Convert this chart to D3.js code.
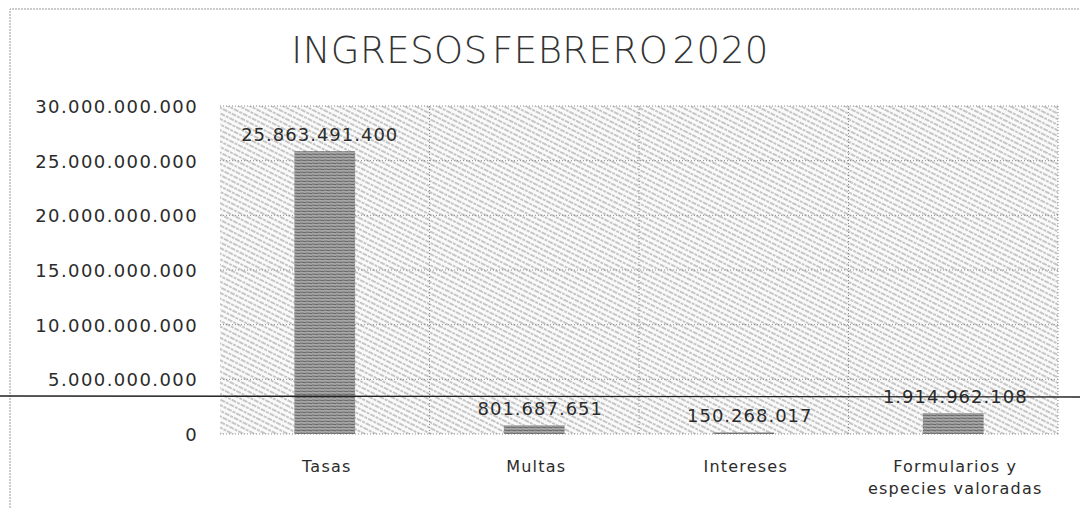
<!DOCTYPE html>
<html>
<head>
  <meta charset="UTF-8">
  <title>Ingresos febrero 2020</title>
  <style>
    body { margin: 0; background: #fff; }
    .tick-lbl, .val-lbl, .cat-lbl {
        font-family: "DejaVu Sans", sans-serif;
        fill: #2b2b2b;
    }
    .title {
        font-family: "DejaVu Sans", sans-serif;
        fill: #333;
    }
  </style>
</head>
<body>
<svg></svg>
<script src="https://d3js.org/d3.v7.min.js"></script>
<script>

let width = 1080, height = 508;

// data
var categories = ["Tasas", "Multas", "Intereses", "Formularios y|especies valoradas"];
var values = [25863491400, 801687651, 150268017, 1914962108];
var valueLabels = ["25.863.491.400", "801.687.651", "150.268.017", "1.914.962.108"];
var tickValues = [0, 5000000000, 10000000000, 15000000000, 20000000000, 25000000000, 30000000000];
var tickLabels = ["0", "5.000.000.000", "10.000.000.000", "15.000.000.000", "20.000.000.000", "25.000.000.000", "30.000.000.000"];

let svg = d3.select("svg")
    .attr("width", width)
    .attr("height", height);

let plot = {left: 220, right: 1058, top: 106, bottom: 434};

let x = d3.scaleBand()
    .domain(categories)
    .range([plot.left, plot.right])
    .padding(0);

let y = d3.scaleLinear()
    .domain([0, 30000000000])
    .range([plot.bottom, plot.top]);

// patterns
let defs = svg.append("defs");
let hatch = defs.append("pattern")
    .attr("id", "hatch")
    .attr("patternUnits", "userSpaceOnUse")
    .attr("width", 10).attr("height", 5)
    .attr("patternTransform", "rotate(27)");
hatch.append("rect").attr("width", 10).attr("height", 5).attr("fill", "#fafafa");
hatch.append("line")
    .attr("x1", 0).attr("y1", 1).attr("x2", 10).attr("y2", 1)
    .attr("stroke", "#939393").attr("stroke-width", 1)
    .attr("stroke-dasharray", "3,1");

let barPat = defs.append("pattern")
    .attr("id", "barpat")
    .attr("patternUnits", "userSpaceOnUse")
    .attr("width", 6).attr("height", 3);
barPat.append("rect").attr("width", 6).attr("height", 3).attr("fill", "#a8a8a8");
barPat.append("line")
    .attr("x1", 0).attr("y1", 1).attr("x2", 6).attr("y2", 1.6)
    .attr("stroke", "#6a6a6a").attr("stroke-width", 1.2);

// chart border (scanned, dotted)
svg.append("path")
    .attr("d", "M10,508 L10,9 L1080,9")
    .attr("fill", "none")
    .attr("stroke", "#999")
    .attr("stroke-width", 1)
    .attr("stroke-dasharray", "2,1");

// plot area background
svg.append("rect")
    .attr("x", plot.left).attr("y", plot.top)
    .attr("width", plot.right - plot.left)
    .attr("height", plot.bottom - plot.top)
    .attr("fill", "url(#hatch)");

// horizontal gridlines
svg.append("g")
    .selectAll("line")
    .data(tickValues)
    .enter()
    .append("line")
    .attr("x1", plot.left).attr("x2", plot.right)
    .attr("y1", d => y(d)).attr("y2", d => y(d))
    .attr("stroke", "#8c8c8c")
    .attr("stroke-dasharray", "1,2");

// vertical separators between categories
svg.append("g")
    .selectAll("line")
    .data(categories)
    .enter()
    .append("line")
    .attr("x1", d => x(d) + x.bandwidth()).attr("x2", d => x(d) + x.bandwidth())
    .attr("y1", plot.top).attr("y2", plot.bottom)
    .attr("stroke", "#8c8c8c")
    .attr("stroke-dasharray", "1,2");

// bars
let barW = x.bandwidth() * 0.29;
svg.append("g")
    .selectAll("rect")
    .data(values)
    .enter()
    .append("rect")
    .attr("x", (d, i) => x(categories[i]) + x.bandwidth() / 2 - barW / 2)
    .attr("y", d => y(d))
    .attr("width", barW)
    .attr("height", d => y(0) - y(d))
    .attr("fill", "url(#barpat)");

// y tick labels
svg.append("g")
    .selectAll("text")
    .data(tickValues)
    .enter()
    .append("text")
    .attr("class", "tick-lbl")
    .attr("x", 198)
    .attr("y", d => y(d) + 7)
    .attr("text-anchor", "end")
    .style("font-size", "18px")
    .style("letter-spacing", "1.4px")
    .text((d, i) => tickLabels[i]);

// value labels, sitting just above each bar
var labelShift = [-5, 6, 6, 2];
svg.append("g")
    .selectAll("text")
    .data(values)
    .enter()
    .append("text")
    .attr("class", "val-lbl")
    .attr("x", (d, i) => x(categories[i]) + x.bandwidth() / 2 + labelShift[i])
    .attr("y", d => y(d) - 10)
    .attr("text-anchor", "middle")
    .style("font-size", "18px")
    .style("letter-spacing", "1px")
    .text((d, i) => valueLabels[i]);

// category labels
svg.append("g")
    .selectAll("text")
    .data(categories)
    .enter()
    .append("text")
    .attr("class", "cat-lbl")
    .attr("x", d => x(d) + x.bandwidth() / 2)
    .attr("y", 472)
    .attr("text-anchor", "middle")
    .style("font-size", "16px")
    .style("letter-spacing", "1.2px")
    .each(function (d) {
        let parts = d.split("|");
        d3.select(this).selectAll("tspan")
            .data(parts)
            .enter()
            .append("tspan")
            .attr("x", x(d) + x.bandwidth() / 2 + 2)
            .attr("dy", (p, j) => j === 0 ? 0 : 22)
            .text(p => p);
    });

// title
svg.append("text")
    .attr("class", "title")
    .attr("x", 530)
    .attr("y", 63)
    .attr("text-anchor", "middle")
    .style("font-size", "37px")
    .style("font-weight", "200")
    .style("letter-spacing", "0.5px")
    .style("word-spacing", "-8px")
    .text("INGRESOS FEBRERO 2020");

// scan artifact line across the page
svg.append("line")
    .attr("x1", 0).attr("x2", width)
    .attr("y1", 396).attr("y2", 397)
    .attr("stroke", "#222")
    .attr("stroke-width", 1.3);

</script>
</body>
</html>
